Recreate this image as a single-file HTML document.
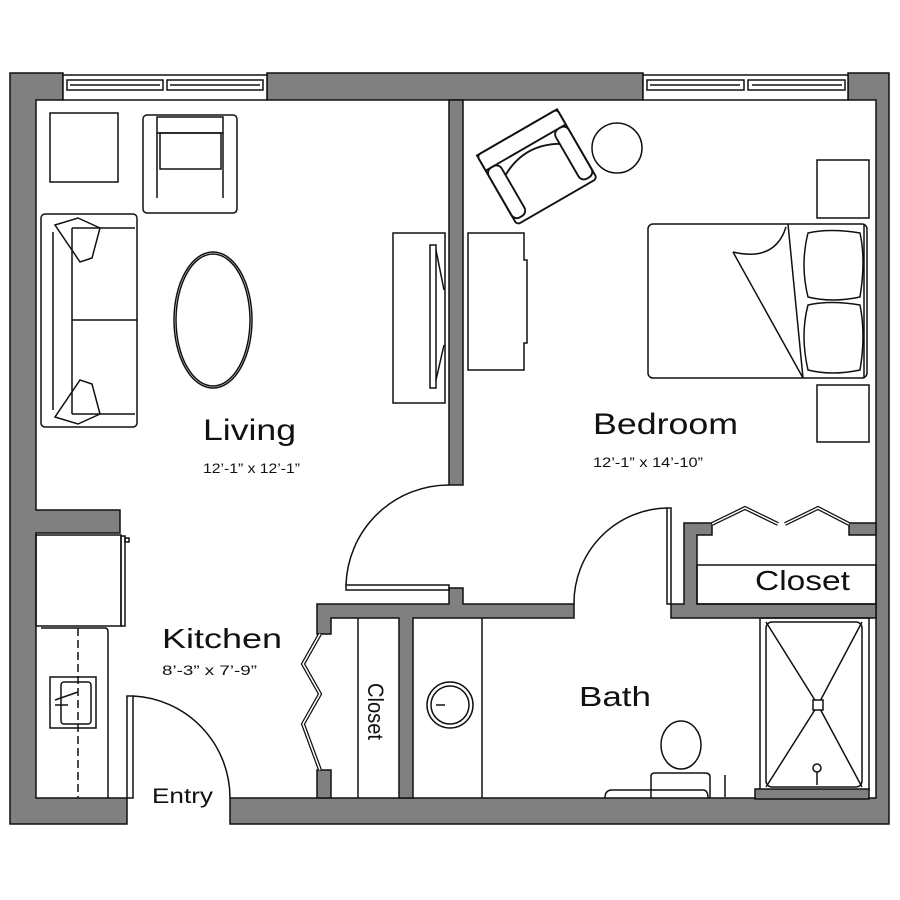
<!DOCTYPE html>
<html><head><meta charset="utf-8"><style>
html,body{margin:0;padding:0;background:#fff;width:900px;height:900px;overflow:hidden}
svg{display:block}
text{font-family:"Liberation Sans",sans-serif;fill:#111}
</style></head><body>
<svg width="900" height="900" viewBox="0 0 900 900" xmlns="http://www.w3.org/2000/svg">
<g fill="#808080" stroke="#111" stroke-width="1.5">
<path d="M10 73 H63 V100 H36 V510 H120 V533 H36 V798 H127 V824 H10 Z"/>
<rect x="267" y="73" width="376" height="27"/>
<path d="M848 73 H889 V824 H230 V798 H876 V100 H848 Z"/>
<rect x="449" y="100" width="14" height="385"/>
<path d="M317 604 H449 V588 H463 V604 H574 V618 H413 V798 H399 V618 H331 V634 H317 Z"/>
<rect x="317" y="770" width="14" height="28"/>
<path d="M671 604 H684 V523 H712 V535 H697 V604 H876 V618 H671 Z"/>
<path d="M849 523 H876 V535 H849 Z"/>
</g>
<g fill="none" stroke="#111" stroke-width="1.5">
<rect x="63" y="75" width="204" height="25" fill="#fff"/>
<rect x="67" y="80" width="96" height="10"/><rect x="167" y="80" width="96" height="10"/>
<line x1="70" y1="85" x2="160" y2="85"/><line x1="170" y1="85" x2="260" y2="85"/>
<rect x="643" y="75" width="205" height="25" fill="#fff"/>
<rect x="647" y="80" width="97" height="10"/><rect x="748" y="80" width="97" height="10"/>
<line x1="650" y1="85" x2="740" y2="85"/><line x1="752" y1="85" x2="842" y2="85"/>
<rect x="50" y="113" width="68" height="69"/>
<rect x="143" y="115" width="94" height="98" rx="4"/>
<rect x="157" y="117" width="66" height="16"/>
<path d="M160 133 V169 H221 V133 Z"/>
<line x1="157" y1="133" x2="157" y2="198"/><line x1="223" y1="133" x2="223" y2="198"/>
<rect x="41" y="214" width="96" height="213" rx="4"/>
<line x1="72" y1="228" x2="72" y2="414"/><line x1="72" y1="320" x2="137" y2="320"/>
<line x1="53" y1="232" x2="53" y2="410"/>
<path d="M72 228 H135 M72 414 H135"/>
<path d="M55 225 L78 218 L100 228 L92 258 L80 262 Z"/>
<path d="M55 417 L78 424 L100 414 L92 384 L80 380 Z"/>
<ellipse cx="213" cy="320" rx="39" ry="68"/>
<ellipse cx="213" cy="320" rx="37" ry="66"/>
<rect x="393" y="233" width="52" height="170"/>
<path d="M430 245 H436 V388 H430 Z"/>
<path d="M436 250 L444 290 M436 380 L444 345"/>
<g transform="translate(537 167) rotate(-30) scale(1.25) translate(-537 -167)">
<rect x="500" y="135" width="74" height="64" rx="3"/>
<rect x="500" y="135" width="74" height="14"/>
<rect x="500" y="149" width="12" height="46" rx="5"/>
<rect x="562" y="149" width="12" height="46" rx="5"/>
<path d="M512 160 Q537 146 562 160"/>
</g>
<circle cx="617" cy="148" r="25"/>
<path d="M468 233 H524 V260 H527 V343 H524 V370 H468 Z"/>
<rect x="648" y="224" width="219" height="154" rx="5"/>
<line x1="788" y1="224" x2="803" y2="378"/>
<path d="M733 252 Q775 262 786 227 M733 252 L803 378"/>
<line x1="864" y1="224" x2="864" y2="378"/>
<path d="M808 233 Q830 228 860 233 Q866 260 860 297 Q832 303 808 297 Q800 265 808 233 Z"/>
<path d="M808 305 Q830 300 860 305 Q866 335 860 370 Q832 376 808 370 Q800 335 808 305 Z"/>
<rect x="817" y="160" width="52" height="58"/>
<rect x="817" y="385" width="52" height="57"/>
<rect x="346" y="585" width="103" height="5"/>
<path d="M346 585 A103 103 0 0 1 449 485"/>
<rect x="667" y="508" width="4" height="96"/>
<path d="M574 604 A95 95 0 0 1 667 508"/>
<rect x="127" y="696" width="6" height="102"/>
<path d="M133 696 A102 102 0 0 1 230 798"/>
<path d="M320 634 L303 664 L320 694 L303 724 L320 770" stroke-width="4"/>
<path d="M320 634 L303 664 L320 694 L303 724 L320 770" stroke="#fff" stroke-width="1.5"/>
<path d="M712 524 L745 508 L778 524 M785 524 L818 508 L849 524" stroke-width="4"/>
<path d="M712 524 L745 508 L778 524 M785 524 L818 508 L849 524" stroke="#fff" stroke-width="1.5"/>
<line x1="358" y1="618" x2="358" y2="798"/>
<rect x="697" y="565" width="179" height="39"/>
<rect x="36" y="535" width="85" height="91"/>
<rect x="121" y="536" width="4" height="90"/>
<rect x="125" y="538" width="4" height="4"/>
<path d="M41 628 H105 Q108 628 108 632 V798"/>
<line x1="78" y1="628" x2="78" y2="798" stroke-dasharray="8,4"/>
<rect x="50" y="677" width="46" height="51"/>
<rect x="61" y="682" width="30" height="42" rx="3"/>
<path d="M55 700 L78 692 M55 705 H68"/>
<line x1="482" y1="618" x2="482" y2="798"/>
<circle cx="450" cy="705" r="23"/><circle cx="450" cy="705" r="19"/>
<path d="M436 705 H445"/>
<ellipse cx="681" cy="745" rx="20" ry="24"/>
<path d="M651 798 V776 Q651 773 655 773 H705 Q710 773 710 777 V798"/>
<path d="M605 798 Q605 790 612 790 H703 Q708 790 708 798"/>
<line x1="725" y1="775" x2="725" y2="797"/>
<rect x="760" y="618" width="109" height="172"/>
<rect x="766" y="622" width="96" height="165" rx="6"/>
<path d="M766 622 L818 705 L862 622 M766 787 L818 705 L862 787"/>
<rect x="813" y="700" width="10" height="10" fill="#fff"/>
<circle cx="817" cy="768" r="4"/><line x1="817" y1="772" x2="817" y2="785"/>
</g>
<rect x="755" y="789" width="114" height="10" fill="#808080" stroke="#111" stroke-width="1.5"/>
<text x="203" y="440" font-size="30" textLength="93" lengthAdjust="spacingAndGlyphs">Living</text>
<text x="203" y="473" font-size="14" textLength="97" lengthAdjust="spacingAndGlyphs">12’-1” x 12’-1”</text>
<text x="593" y="434" font-size="30" textLength="145" lengthAdjust="spacingAndGlyphs">Bedroom</text>
<text x="593" y="467" font-size="14" textLength="110" lengthAdjust="spacingAndGlyphs">12’-1” x 14’-10”</text>
<text x="162" y="648" font-size="28" textLength="120" lengthAdjust="spacingAndGlyphs">Kitchen</text>
<text x="162" y="675" font-size="14" textLength="95" lengthAdjust="spacingAndGlyphs">8’-3” x 7’-9”</text>
<text x="152" y="803" font-size="21" textLength="61" lengthAdjust="spacingAndGlyphs">Entry</text>
<text x="579" y="706" font-size="28" textLength="72" lengthAdjust="spacingAndGlyphs">Bath</text>
<text x="755" y="590" font-size="28" textLength="95" lengthAdjust="spacingAndGlyphs">Closet</text>
<text x="0" y="0" font-size="22" textLength="57" lengthAdjust="spacingAndGlyphs" transform="translate(368 683) rotate(90)">Closet</text>
</svg>
</body></html>
